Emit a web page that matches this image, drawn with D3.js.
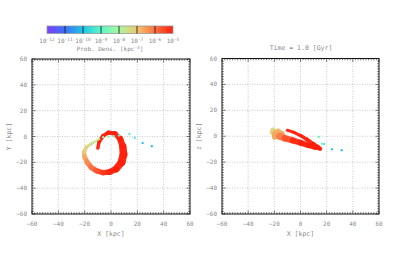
<!DOCTYPE html>
<html>
<head>
<meta charset="utf-8">
<script src="https://cdn.jsdelivr.net/npm/d3@7"></script>
<style>
  body { margin: 0; background: #fff; }
  text { font-family: "DejaVu Sans Mono", "Liberation Mono", monospace; fill: #8a8a8a; }
</style>
</head>
<body>
<div id="chart"></div>
<script>
// axis ticks (kpc)
const majorTicks = [-60, -40, -20, 0, 20, 40, 60];
const cbarExponents = [-12, -11, -10, -9, -8, -7, -6, -5];
const timeLabel = "Time = 1.0 [Gyr]";

// stream track seen in the x-y plane: [x, y, log10 density, thickness]
const xyTrack = [
  [-10, -9, -5, 2.4], [-9, -4, -5, 2.8], [-6, 0.5, -5, 3], [-2, 3, -5, 3],
  [3, 2.2, -5, 3.4], [7, -2, -5, 4.4], [9, -8, -5, 5.4], [9.5, -14, -5, 6],
  [8, -20, -5, 6], [4, -25, -5, 5], [-1, -27.5, -5, 4.2], [-6, -28, -5.2, 4],
  [-11, -26.5, -5.5, 4], [-15, -24, -5.9, 4], [-18, -20, -6.2, 3.8],
  [-20, -16, -6.5, 3.4], [-20.5, -12, -6.9, 3], [-18.5, -8, -7.3, 2.6],
  [-14, -5, -7.5, 2], [-9, -2, -7.9, 1.2]
];
// stray particles in x-y: [x, y, log10 density]
const xyStray = [
  [-6, -0.5, -8.4], [-2, -0.2, -8.5], [2, 0.3, -8.6], [6, 0.8, -8.8],
  [14, 2, -9.2], [18, -1, -9.4], [24, -5, -10.1], [31, -7.5, -10.3]
];

// x-z plane: blob, lower band and upper arm, [x, z, log10 density, thickness]
const xzBlob = [
  [-21, 5, -7.6, 3], [-19, 3, -7.2, 4.5], [-17, 4, -7, 3.5], [-14, 2, -6.5, 3.5],
  [-20, -1, -6.8, 3.5]
];
const xzLower = [
  [-21, 3, -7.3, 4], [-19, 1.5, -6.9, 5.5], [-16, 0, -6.4, 5.5], [-12, -1.5, -5.9, 5],
  [-6, -3.2, -5.3, 4.6], [0, -5, -5, 4.4], [6, -7, -5, 4.2], [11, -8.6, -5, 3.6],
  [15, -9.6, -5, 2.6]
];
const xzUpper = [
  [-10, 4.6, -5, 2.2], [-5, 3, -5, 2.4], [0, 0.5, -5, 2.6], [5, -2.6, -5, 2.8],
  [10, -6, -5, 3], [13.5, -8.2, -5, 2.8], [15, -9.6, -5, 2.6]
];
const xzStray = [
  [14, -0.5, -8.8], [16.5, -5.8, -8.9], [18, -6, -9.1], [24, -10, -10.1], [31.5, -10.8, -10.3]
];

const W = 395, H = 276;
const svg = d3.select("#chart").append("svg").attr("width", W).attr("height", H);

// rainbow palette, one colour per decade boundary
const color = d3.scaleLinear()
  .domain(cbarExponents)
  .range(["#7f40ff", "#3a70f8", "#1ec6e6", "#5cf8c8", "#a8f8a0", "#eec870", "#ff7040", "#ff1e0a"])
  .clamp(true);

// colour bar
const cbX = d3.scaleLinear().domain([-12, -5]).range([47, 173]);
const grad = svg.append("defs").append("linearGradient").attr("id", "cbgrad");
cbarExponents.forEach(e => {
  grad.append("stop")
    .attr("offset", (e + 12) / 7)
    .attr("stop-color", color(e));
});
svg.append("rect")
  .attr("x", cbX(-12)).attr("y", 26)
  .attr("width", cbX(-5) - cbX(-12)).attr("height", 7.5)
  .attr("fill", "url(#cbgrad)")
  .attr("stroke", "#999").attr("stroke-width", 0.8);
svg.selectAll(".cbsep")
  .data(cbarExponents.slice(1, -1))
  .join("line")
  .attr("x1", d => cbX(d)).attr("x2", d => cbX(d))
  .attr("y1", 26).attr("y2", 33.5)
  .attr("stroke", "#222").attr("stroke-width", 0.9);
const cbLab = svg.selectAll(".cblab")
  .data(cbarExponents)
  .join("text")
  .attr("x", d => cbX(d)).attr("y", 43)
  .attr("text-anchor", "middle")
  .style("font-size", "6px");
cbLab.append("tspan").text("10");
cbLab.append("tspan").attr("dy", -2.5).style("font-size", "4.5px").text(d => d);
const cbTitle = svg.append("text")
  .attr("x", 110).attr("y", 51)
  .attr("text-anchor", "middle")
  .style("font-size", "6px");
cbTitle.append("tspan").text("Prob. Dens. [kpc");
cbTitle.append("tspan").attr("dy", -2.5).style("font-size", "4.5px").text("-3");
cbTitle.append("tspan").attr("dy", 2.5).text("]");

svg.append("text")
  .attr("x", 301).attr("y", 50)
  .attr("text-anchor", "middle")
  .style("font-size", "6.5px")
  .text(timeLabel);

function panel(left, right, top, bottom, yName, tracks, stray) {
  const x = d3.scaleLinear().domain([-60, 60]).range([left, right]);
  const y = d3.scaleLinear().domain([-60, 60]).range([bottom, top]);
  const kpc = Math.abs(x(1) - x(0));
  const g = svg.append("g");
  const minor = d3.range(-60, 61, 2);

  // dotted grid
  g.selectAll(".gx").data(majorTicks.slice(1, -1)).join("line")
    .attr("x1", d => x(d)).attr("x2", d => x(d))
    .attr("y1", top).attr("y2", bottom)
    .attr("stroke", "#aaa").attr("stroke-width", 0.6).attr("stroke-dasharray", "1,1.5");
  g.selectAll(".gy").data(majorTicks.slice(1, -1)).join("line")
    .attr("y1", d => y(d)).attr("y2", d => y(d))
    .attr("x1", left).attr("x2", right)
    .attr("stroke", "#aaa").attr("stroke-width", 0.6).attr("stroke-dasharray", "1,1.5");

  // stream tracks as thick segments coloured by density
  tracks.forEach(tr => {
    const segs = d3.pairs(tr);
    g.selectAll(null).data(segs).join("line")
      .attr("x1", d => x(d[0][0])).attr("y1", d => y(d[0][1]))
      .attr("x2", d => x(d[1][0])).attr("y2", d => y(d[1][1]))
      .attr("stroke", d => color((d[0][2] + d[1][2]) / 2))
      .attr("stroke-width", d => (d[0][3] + d[1][3]) / 2 * kpc)
      .attr("stroke-linecap", "round")
      .attr("opacity", 0.95);
  });
  g.selectAll(null).data(stray).join("rect")
    .attr("x", d => x(d[0]) - 1).attr("y", d => y(d[1]) - 1)
    .attr("width", 2).attr("height", 2)
    .attr("fill", d => color(d[2]));

  // frame + ticks on all four sides
  g.append("rect")
    .attr("x", left).attr("y", top).attr("width", right - left).attr("height", bottom - top)
    .attr("fill", "none").attr("stroke", "#111").attr("stroke-width", 1);
  const tl = d => majorTicks.includes(d) ? 3.5 : 1.8;
  g.selectAll(".tb").data(minor).join("line")
    .attr("x1", d => x(d)).attr("x2", d => x(d))
    .attr("y1", bottom).attr("y2", d => bottom - tl(d))
    .attr("stroke", "#222").attr("stroke-width", 0.6);
  g.selectAll(".tt").data(minor).join("line")
    .attr("x1", d => x(d)).attr("x2", d => x(d))
    .attr("y1", top).attr("y2", d => top + tl(d))
    .attr("stroke", "#222").attr("stroke-width", 0.6);
  g.selectAll(".tlft").data(minor).join("line")
    .attr("y1", d => y(d)).attr("y2", d => y(d))
    .attr("x1", left).attr("x2", d => left + tl(d))
    .attr("stroke", "#222").attr("stroke-width", 0.6);
  g.selectAll(".trt").data(minor).join("line")
    .attr("y1", d => y(d)).attr("y2", d => y(d))
    .attr("x1", right).attr("x2", d => right - tl(d))
    .attr("stroke", "#222").attr("stroke-width", 0.6);

  // tick labels
  const fmt = d => d < 0 ? "\u2212" + Math.abs(d) : String(d);
  g.selectAll(".lx").data(majorTicks).join("text")
    .attr("x", d => x(d)).attr("y", bottom + 12)
    .attr("text-anchor", "middle").style("font-size", "6px")
    .text(fmt);
  g.selectAll(".ly").data(majorTicks).join("text")
    .attr("x", left - 5).attr("y", d => y(d) + 2)
    .attr("text-anchor", "end").style("font-size", "6px")
    .text(fmt);

  g.append("text")
    .attr("x", (left + right) / 2).attr("y", bottom + 22)
    .attr("text-anchor", "middle").style("font-size", "6.5px")
    .text("X [kpc]");
  g.append("text")
    .attr("transform", `translate(${left - 21}, ${(top + bottom) / 2}) rotate(-90)`)
    .attr("text-anchor", "middle").style("font-size", "6.5px")
    .text(yName + " [kpc]");
}

panel(32, 190, 59, 214, "Y", [xyTrack], xyStray);
panel(222, 379, 58.5, 214, "z", [xzBlob, xzLower, xzUpper], xzStray);
</script>
</body>
</html>
